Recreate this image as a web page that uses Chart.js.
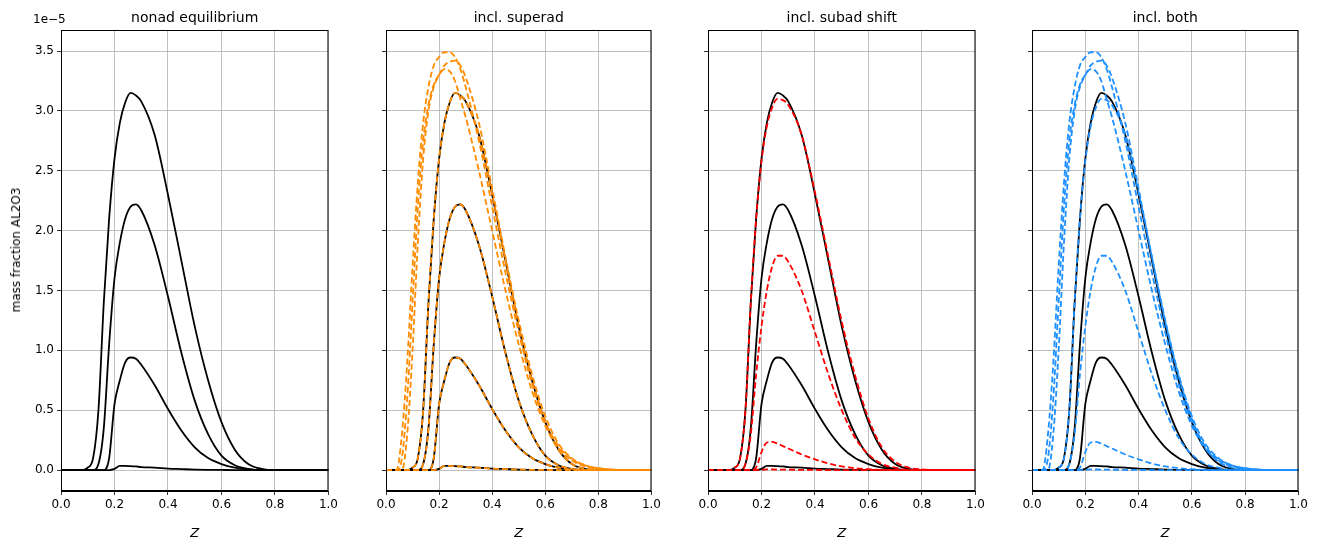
<!DOCTYPE html>
<html><head><meta charset="utf-8">
<script src="https://cdn.jsdelivr.net/npm/chart.js@4"></script>
<style>body{margin:0;background:#fff;width:1322px;height:545px;position:relative;overflow:hidden;font-family:"DejaVu Sans",sans-serif}
.t{position:absolute;font-size:12px;color:#000}</style></head><body>
<script>
const zs=[0,0.02,0.04,0.06,0.08,0.1,0.12,0.14,0.16,0.18,0.2,0.22,0.24,0.26,0.28,0.3,0.35,0.4,0.45,0.5,0.55,0.6,0.65,0.7,0.75,0.8,0.85,0.9,1.0];
const black1=[0,0,0,0,0,0.02,0.1,0.5,1.4,2.1,2.6,2.9,3.07,3.15,3.13,3.08,2.8,2.3,1.75,1.2,0.75,0.4,0.17,0.05,0.01,0,0,0,0];
const black2=[0,0,0,0,0,0,0,0.05,0.35,1.05,1.6,1.9,2.1,2.2,2.22,2.17,1.88,1.45,0.98,0.58,0.3,0.12,0.04,0.01,0,0,0,0,0];
const black3=[0,0,0,0,0,0,0,0,0,0.1,0.55,0.75,0.9,0.94,0.93,0.88,0.71,0.51,0.33,0.19,0.1,0.05,0.02,0.005,0,0,0,0,0];
const black4=[0,0,0,0,0,0,0,0,0,0,0.01,0.035,0.035,0.032,0.03,0.025,0.02,0.012,0.008,0.004,0.002,0.001,0,0,0,0,0,0,0];
const superA=[0,0,0,0.3,0.9,1.7,2.4,2.9,3.2,3.38,3.45,3.49,3.49,3.45,3.35,3.2,2.75,2.2,1.65,1.15,0.72,0.4,0.2,0.09,0.04,0.015,0.005,0,0];
const superB=[0,0,0,0,0.3,1.0,1.9,2.6,3.0,3.2,3.3,3.38,3.41,3.42,3.38,3.28,2.9,2.35,1.78,1.25,0.8,0.45,0.22,0.1,0.04,0.015,0.005,0,0];
const superC=[0,0,0,0.1,0.6,1.4,2.2,2.75,3.05,3.22,3.3,3.35,3.33,3.25,3.1,2.95,2.5,2.0,1.5,1.05,0.66,0.37,0.18,0.08,0.03,0.01,0,0,0];
const subad1=[0,0,0,0,0,0.02,0.1,0.5,1.4,2.1,2.58,2.87,3.03,3.1,3.09,3.05,2.8,2.32,1.78,1.24,0.79,0.43,0.19,0.07,0.02,0.005,0,0,0];
const subad2=[0,0,0,0,0,0,0,0.05,0.3,0.8,1.2,1.5,1.7,1.79,1.79,1.74,1.5,1.15,0.8,0.5,0.27,0.13,0.05,0.02,0,0,0,0,0];
const subad3=[0,0,0,0,0,0,0,0,0,0.02,0.15,0.23,0.235,0.22,0.2,0.18,0.13,0.09,0.055,0.03,0.015,0.007,0.002,0,0,0,0,0,0];
const subad4=[0,0,0,0,0,0,0,0,0,0,0.002,0.005,0.005,0.004,0.004,0.003,0.002,0.001,0,0,0,0,0,0,0,0,0,0,0];
const xTicks=[0,0.2,0.4,0.6,0.8,1.0];
const yTicks=[0,0.5,1.0,1.5,2.0,2.5,3.0,3.5];
const titles=["nonad equilibrium","incl. superad","incl. subad shift","incl. both"];
const lefts=[61,386,708,1032], rights=[331,654,978,1301];
const ORANGE='#ff8c00', RED='#ff0000', BLUE='#1e90ff';
const blacks=[black1,black2,black3,black4];
function ds(arr,color,dash){return {data:zs.map((z,i)=>({x:z,y:arr[i]})),borderColor:color,borderWidth:1.8,borderDash:dash?[6,3]:[],pointRadius:0,cubicInterpolationMode:'monotone',fill:false};}
const blk=()=>blacks.map(a=>ds(a,'#000',false));
const panels=[
 blk(),
 [superA,superB,superC,black1,black2,black3,black4].map(a=>ds(a,ORANGE,true)).concat(blk()),
 [subad1,subad2,subad3,subad4].map(a=>ds(a,RED,true)).concat(blk()),
 [superA,superB,superC,subad1,subad2,subad3,subad4].map(a=>ds(a,BLUE,true)).concat(blk())
];
const font={family:'DejaVu Sans',size:12};
panels.forEach((sets,p)=>{
  const c=document.createElement('canvas');
  const w=60+(rights[p]-lefts[p])+10;
  c.width=w;c.height=545;
  const d=document.createElement('div');d.style.cssText=`position:absolute;left:${lefts[p]-60}px;top:0;width:${w}px;height:545px`;
  d.appendChild(c);document.body.appendChild(d);
  new Chart(c,{type:'line',data:{datasets:sets},options:{responsive:false,animation:false,devicePixelRatio:1,
    layout:{padding:{top:30,right:10,left:0,bottom:0}},
    plugins:{legend:{display:false},tooltip:{enabled:false},title:{display:false}},
    scales:{
      x:{type:'linear',min:0,max:1,afterBuildTicks:s=>{s.ticks=xTicks.map(v=>({value:v}));},afterFit:s=>{s.height=54;},
        ticks:{color:'#000',font,callback:v=>v.toFixed(1),maxRotation:0,padding:3},
        grid:{color:'#b0b0b0',tickColor:'#000',tickLength:4,lineWidth:0.8},border:{color:'#000',width:1},
        title:{display:true,text:'Z',font:{family:'DejaVu Sans',size:13,style:'italic'},color:'#000',padding:{top:2}}},
      y:{min:-0.175,max:3.676,afterBuildTicks:s=>{s.ticks=yTicks.map(v=>({value:v}));},afterFit:s=>{s.width=60;},
        ticks:{display:p===0,color:'#000',font,callback:v=>v.toFixed(1),padding:3},
        grid:{color:'#b0b0b0',tickColor:'#000',tickLength:4,lineWidth:0.8},border:{color:'#000',width:1}}
    }},
    plugins:[{id:'t',afterDraw(ch){const g=ch.ctx,a=ch.chartArea;g.save();g.fillStyle='#000';g.font='14px "DejaVu Sans"';g.textAlign='center';g.textBaseline='bottom';g.fillText(titles[p],(a.left+a.right)/2,a.top-5);
      g.strokeStyle='#000';g.lineWidth=1;g.strokeRect(a.left+0.5,a.top+0.5,a.right-a.left-1,a.bottom-a.top-1);g.restore();}}]
  });
});
const e=document.createElement('div');e.className='t';e.style.left='33px';e.style.top='12px';e.textContent='1e−5';document.body.appendChild(e);
const yl=document.createElement('div');yl.className='t';yl.style.cssText='position:absolute;font-size:12px;left:16px;top:250px;transform:translate(-50%,-50%) rotate(-90deg);white-space:nowrap';yl.textContent='mass fraction AL2O3';document.body.appendChild(yl);
</script></body></html>
